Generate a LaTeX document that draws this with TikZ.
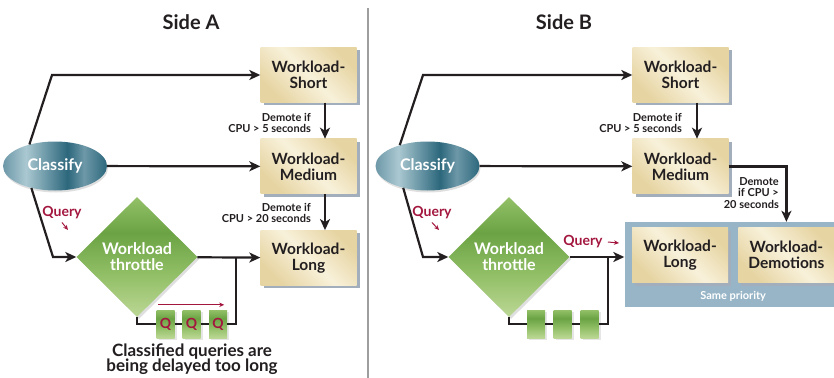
\documentclass[tikz,border=0pt]{standalone}
\usepackage{fontspec}
\setmainfont{Lato}
\usetikzlibrary{positioning,shapes.geometric,arrows.meta,shadows,calc}
\definecolor{boxlight}{HTML}{F8F1DA}
\definecolor{boxdark}{HTML}{E6D4A2}
\definecolor{boxshade}{HTML}{A3AEBC}
\definecolor{clsdark}{HTML}{2C677C}
\definecolor{clsmid}{HTML}{6D98A8}
\definecolor{clslight}{HTML}{AAC8D1}
\definecolor{thrdark}{HTML}{6BA344}
\definecolor{thrmid}{HTML}{93C068}
\definecolor{thrlight}{HTML}{BCD795}
\definecolor{qred}{HTML}{A3173F}
\definecolor{panelblue}{HTML}{97B5C7}
\definecolor{ink}{HTML}{231F20}
\pgfdeclarehorizontalshading{clsshade}{100bp}{color(0bp)=(clsmid); color(25bp)=(clsmid); color(36bp)=(clslight); color(56bp)=(clsdark); color(64bp)=(clsmid); color(75bp)=(clsdark); color(100bp)=(clsdark)}
\pgfdeclareverticalshading{thrshade}{100bp}{color(0bp)=(thrlight); color(25bp)=(thrlight); color(42bp)=(thrmid); color(60bp)=(thrdark); color(75bp)=(thrmid); color(100bp)=(thrmid)}
\tikzstyle{wl}=[%
      rectangle, draw=none, left color=boxdark, right color=boxdark, middle color=boxlight, shading angle=135,
      drop shadow={shadow xshift=3pt, shadow yshift=-3pt, fill=boxshade, opacity=1},
      minimum width=96pt, minimum height=55pt, inner sep=2pt, align=center, text=ink,
      font=\fontsize{15.5}{16}\selectfont\bfseries
]
\tikzstyle{cls}=[%
      ellipse, draw=none, shading=clsshade, drop shadow={shadow xshift=1pt, shadow yshift=-2pt, opacity=.25},
      minimum width=104pt, minimum height=49pt, inner sep=0pt, text=white,
      font=\fontsize{16}{16}\selectfont\bfseries
]
\tikzstyle{thr}=[%
      diamond, draw=none, shading=thrshade, drop shadow={shadow xshift=2pt, shadow yshift=-2pt, opacity=.25},
      minimum width=121pt, minimum height=120pt, inner sep=0pt, align=center, text=white,
      font=\fontsize{16}{16}\selectfont\bfseries
]
\tikzstyle{qb}=[%
      rectangle, draw=none, shading=thrshade, drop shadow={shadow xshift=2pt, shadow yshift=-2pt, opacity=.2},
      minimum width=18pt, minimum height=28pt, inner sep=0pt, text=qred,
      font=\fontsize{14}{14}\selectfont\bfseries
]
\tikzstyle{panel}=[%
      rectangle, draw=none, fill=panelblue, minimum width=215pt, minimum height=85pt, inner sep=0pt
]
\tikzstyle{dem}=[%
      align=right, inner sep=0pt, text=ink, font=\fontsize{11}{11.5}\selectfont\bfseries
]
\tikzstyle{qry}=[%
      inner sep=0pt, text=qred, font=\fontsize{14}{14}\selectfont\bfseries
]
\tikzstyle{ttl}=[%
      inner sep=0pt, text=ink, font=\fontsize{20}{20}\selectfont\bfseries
]
\tikzstyle{ln}=[ink, line width=2.2pt]
\tikzstyle{qarr}=[draw=qred, line width=1pt, -{Stealth[length=5pt,width=4.5pt]}]

\begin{document}
\begin{tikzpicture}[x=1pt, y=-1pt,
    >={Stealth[length=11pt,width=10pt,inset=3pt]}
  ]
    \useasboundingbox (0,0) rectangle (834,377);

    \node[ttl] (sideA) at (191,22) {Side A};
    \node[ttl] (sideB) at (564,22) {Side B};
    \draw[black!38, line width=1.5pt] (368,8) -- (368,380);

    % side A
    \node[wl]  (shortA)                        at (308.5,75) {Workload-\\Short};
    \node[wl]  (medA)   [below = 36pt of shortA]            {Workload-\\Medium};
    \node[wl]  (longA)  [below = 36pt of medA]              {Workload-\\Long};
    \node[cls] (clsA)                          at (55,166)   {Classify};
    \node[thr] (thrA)                          at (137,257)  {Workload\\throttle};
    \node[qb]  (q1A)                           at (165.5,324) {Q};
    \node[qb]  (q2A)                           at (191.5,324) {Q};
    \node[qb]  (q3A)                           at (218,324)   {Q};

    \coordinate (cA1) at (52,75);
    \coordinate (cA2) at (53,257);
    \coordinate (jA)  at (236,257);

    \draw[ln, ->] (clsA.140) -- (cA1) -- (shortA.west);
    \draw[ln, ->] (clsA.223) -- (cA2) -- (thrA.west);
    \path[ln, ->] (clsA) edge (medA)
                  (thrA) edge (longA)
                  ([xshift=16.5pt]shortA.south) edge ([xshift=16.5pt]medA.north)
                  ([xshift=16.5pt]medA.south)   edge ([xshift=16.5pt]longA.north);
    \draw[ln] (thrA.south) |- (q1A);
    \draw[ln] (q1A) -- (q2A);
    \draw[ln] (q2A) -- (q3A);
    \draw[ln] (q3A) -| (jA);

    \node[dem] (dA1) [anchor=east] at (311,123) {Demote if\\CPU > 5 seconds};
    \node[dem] (dA2) [anchor=east] at (311,213) {Demote if\\CPU > 20 seconds};
    \node[qry] (qyA) at (62,213) {Query};
    \coordinate (qyAt) at (68,230);
    \draw[qarr] ([yshift=-3pt]qyA.south) -- (qyAt);
    \draw[qarr] ([xshift=2pt,yshift=5pt]q1A.north west) -- ([xshift=-3pt,yshift=5pt]q3A.north east);

    \node[align=center, text=ink, font=\fontsize{17}{15.5}\selectfont\bfseries] (noteA) at (192,359)
        {Classified queries are\\being delayed too long};

    % side B
    \node[panel] (prio)                         at (732,264.5) {};
    \node[wl]  (shortB)                        at (680.5,75) {Workload-\\Short};
    \node[wl]  (medB)   [below = 36pt of shortB]            {Workload-\\Medium};
    \node[wl]  (longB)                         at (680,255)  {Workload-\\Long};
    \node[wl]  (demo)   [right = 10pt of longB]             {Workload-\\Demotions};
    \node[inner sep=0pt, text=white, font=\fontsize{11}{11}\selectfont\bfseries] (samep)
        [below = 8pt of $(longB.south)!0.5!(demo.south)$] {Same priority};
    \node[cls] (clsB)                          at (427.5,166) {Classify};
    \node[thr] (thrB)                          at (509,257)   {Workload\\throttle};
    \node[qb]  (q1B)                           at (536,324)   {};
    \node[qb]  (q2B)                           at (562.5,324) {};
    \node[qb]  (q3B)                           at (589.5,324) {};

    \coordinate (cB1) at (423,75);
    \coordinate (cB2) at (423,257);
    \coordinate (jB)  at (608,257);

    \draw[ln, ->] (clsB.143) -- (cB1) -- (shortB.west);
    \draw[ln, ->] (clsB.222) -- (cB2) -- (thrB.west);
    \path[ln, ->] (clsB) edge (medB)
                  (thrB.east) edge (thrB.east -| prio.west)
                  ([xshift=16.5pt]shortB.south) edge ([xshift=16.5pt]medB.north);
    \draw[ln, ->] (medB.east) -| (prio.north -| demo.north);
    \draw[ln] (thrB.south) |- (q1B);
    \draw[ln] (q1B) -- (q2B);
    \draw[ln] (q2B) -- (q3B);
    \draw[ln] (q3B) -| (jB);

    \node[dem] (dB1) [anchor=east] at (682,123) {Demote if\\CPU > 5 seconds};
    \node[dem] (dB2) [anchor=east] at (779,193) {Demote\\if CPU >\\20 seconds};
    \node[qry] (qyB) at (432,213) {Query};
    \coordinate (qyBt) at (439,230);
    \draw[qarr] ([yshift=-3pt]qyB.south) -- (qyBt);
    \node[qry] (qyC) at (583,242) {Query};
    \coordinate (qyCt) at (619,243);
    \draw[qarr] ([xshift=5pt]qyC.east) -- (qyCt);
  \end{tikzpicture}
\end{document}
